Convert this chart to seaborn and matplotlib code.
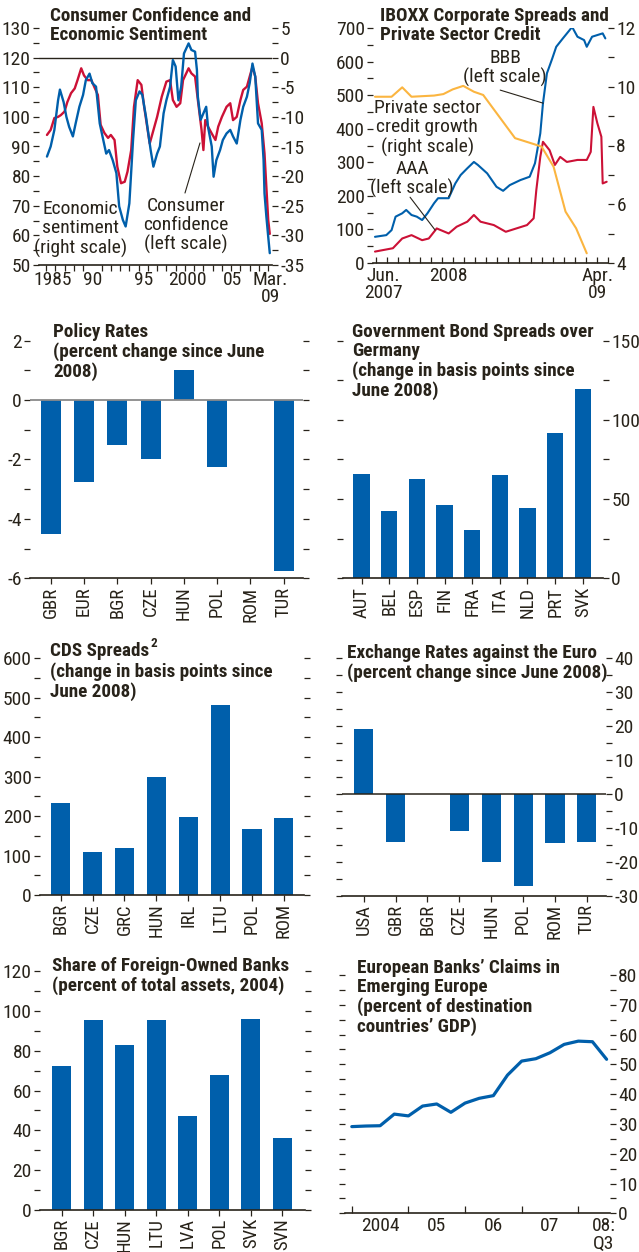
import matplotlib
matplotlib.use("Agg")
import matplotlib.pyplot as plt
from matplotlib import font_manager
from matplotlib.ticker import MultipleLocator
import seaborn as sns

# ---------------- data ----------------
# Consumer confidence (left scale, index) and economic sentiment (right scale, balance)
cc_year = [1985.1, 1985.5, 1985.9, 1986.3, 1986.6, 1987.0, 1987.3, 1987.7, 1988.1, 1988.4,
           1988.8, 1989.1, 1989.5, 1989.9, 1990.2, 1990.6, 1990.9, 1991.3, 1991.7, 1992.0,
           1992.4, 1992.7, 1993.1, 1993.5, 1993.8, 1994.2, 1994.5, 1994.9, 1995.3, 1995.6,
           1996.2, 1996.6, 1997.0, 1997.5, 1998.0, 1998.4, 1998.7, 1999.1, 1999.5, 1999.8,
           2000.4, 2000.7, 2001.1, 2001.4, 2001.8, 2002.0, 2002.2, 2002.5, 2002.9, 2003.3,
           2003.6, 2004.0, 2004.5, 2004.9, 2005.2, 2005.6, 2006.0, 2006.3, 2006.7, 2007.0,
           2007.3, 2007.6, 2007.9, 2008.3, 2008.6, 2008.8, 2009.0, 2009.17]
cc_index = [93.9, 95.6, 99.6, 100.0, 100.6, 101.8, 105.0, 108.0, 109.6, 112.4,
            116.4, 114.0, 112.4, 112.4, 110.2, 107.4, 97.3, 94.6, 92.9, 93.9,
            92.2, 83.2, 77.6, 78.1, 81.5, 88.8, 103.4, 112.4, 110.8, 103.4,
            91.0, 95.5, 100.0, 106.8, 111.9, 112.4, 105.7, 103.4, 104.6, 112.4,
            116.4, 114.7, 113.6, 105.7, 95.6, 88.8, 98.9, 96.7, 94.4, 92.2,
            96.7, 100.0, 103.4, 104.6, 98.9, 100.0, 105.7, 109.1, 110.2, 113.6,
            116.9, 113.6, 104.6, 97.8, 87.7, 76.4, 65.2, 60.5]

es_year = [1985.1, 1985.5, 1985.9, 1986.3, 1986.5, 1986.9, 1987.2, 1987.5, 1987.9, 1988.2,
           1988.6, 1989.0, 1989.3, 1989.7, 1990.0, 1990.4, 1990.8, 1991.1, 1991.5, 1991.8,
           1992.2, 1992.6, 1992.9, 1993.3, 1993.6, 1994.0, 1994.4, 1994.7, 1995.1, 1995.4,
           1995.8, 1996.3, 1996.6, 1997.0, 1997.3, 1997.7, 1998.0, 1998.4, 1998.7, 1999.0,
           1999.3, 1999.6, 1999.9, 2000.4, 2000.7, 2001.1, 2001.3, 2001.4, 2001.7, 2002.0,
           2002.3, 2002.5, 2002.9, 2003.1, 2003.4, 2003.8, 2004.1, 2004.5, 2004.9, 2005.2,
           2005.6, 2006.0, 2006.3, 2006.7, 2007.0, 2007.3, 2007.6, 2007.9, 2008.3, 2008.5,
           2008.6, 2008.8, 2009.0, 2009.17]
es_balance = [-16.7, -15.0, -12.2, -7.2, -5.4, -7.5, -10.0, -11.7, -13.3, -11.1,
              -8.3, -6.3, -3.8, -2.7, -4.3, -4.9, -11.1, -13.3, -16.2, -15.6,
              -17.3, -19.5, -25.1, -27.4, -28.5, -24.6, -13.9, -7.2, -5.7, -6.3,
              -10.0, -15.6, -18.4, -16.2, -15.0, -9.4, -7.2, -4.9, -0.4, -1.5,
              -7.2, -4.9, 0.7, 2.4, 1.3, 1.0, -2.1, -6.6, -10.5, -9.4,
              -8.3, -11.7, -15.0, -20.1, -17.3, -15.6, -13.9, -12.8, -12.2, -13.3,
              -14.5, -10.5, -8.3, -6.6, -4.3, -1.0, -3.2, -11.1, -12.2, -17.3,
              -22.9, -26.8, -30.2, -33.0]

# iBoxx corporate spreads (basis points) and private sector credit growth (percent)
bbb_year = [2007.495, 2007.58, 2007.62, 2007.65, 2007.70, 2007.73, 2007.77, 2007.81, 2007.85,
            2007.89, 2007.94, 2007.97, 2008.05, 2008.10, 2008.14, 2008.19, 2008.24, 2008.27,
            2008.34, 2008.41, 2008.46, 2008.51, 2008.59, 2008.66, 2008.70, 2008.74, 2008.76,
            2008.79, 2008.83, 2008.86, 2008.91, 2008.98, 2009.02, 2009.07, 2009.09, 2009.13,
            2009.21, 2009.23]
bbb_bp = [78, 83, 98, 138, 148, 158, 143, 138, 128,
          148, 178, 193, 193, 237, 262, 282, 301, 292,
          267, 227, 215, 232, 247, 257, 297, 386, 475,
          565, 609, 644, 669, 703, 674, 664, 644, 674,
          684, 669]
aaa_year = [2007.495, 2007.63, 2007.70, 2007.77, 2007.85, 2007.90, 2007.96, 2008.05, 2008.11,
            2008.19, 2008.24, 2008.29, 2008.39, 2008.48, 2008.56, 2008.64, 2008.69, 2008.71,
            2008.74, 2008.76, 2008.81, 2008.85, 2008.89, 2008.94, 2009.02, 2009.09, 2009.12,
            2009.14, 2009.17, 2009.20, 2009.21, 2009.24]
aaa_bp = [34, 44, 73, 83, 68, 73, 103, 88, 108,
          123, 143, 123, 113, 93, 103, 113, 133, 217,
          316, 361, 336, 292, 316, 301, 307, 307, 331,
          465, 416, 376, 237, 242]
credit_year = [2007.495, 2007.62, 2007.70, 2007.77, 2007.94, 2008.01, 2008.08, 2008.16, 2008.24,
               2008.31, 2008.55, 2008.69, 2008.75, 2008.84, 2008.93, 2009.01, 2009.09]
credit_growth = [9.66, 9.66, 9.98, 9.66, 9.70, 9.75, 9.91, 10.03, 9.83,
                 9.72, 8.25, 8.05, 7.96, 7.28, 5.75, 5.18, 4.33]

policy_countries = ["GBR", "EUR", "BGR", "CZE", "HUN", "POL", "ROM", "TUR"]
policy_change = [-4.5, -2.75, -1.5, -2.0, 1.0, -2.25, 0.0, -5.75]

bond_countries = ["AUT", "BEL", "ESP", "FIN", "FRA", "ITA", "NLD", "PRT", "SVK"]
bond_change = [66, 42.5, 63, 46, 30.5, 65, 44.5, 92, 119.5]

cds_countries = ["BGR", "CZE", "GRC", "HUN", "IRL", "LTU", "POL", "ROM"]
cds_change = [233, 110, 119, 300, 197, 481, 167, 195]

fx_countries = ["USA", "GBR", "BGR", "CZE", "HUN", "POL", "ROM", "TUR"]
fx_change = [19.2, -14.1, 0.0, -10.8, -20.2, -27.0, -14.6, -14.1]

foreign_countries = ["BGR", "CZE", "HUN", "LTU", "LVA", "POL", "SVK", "SVN"]
foreign_share = [72.4, 95.5, 82.9, 95.5, 47.2, 67.8, 96.0, 36.1]

claims_quarter = [2004.0, 2004.25, 2004.5, 2004.75, 2005.0, 2005.25, 2005.5, 2005.75,
                  2006.0, 2006.25, 2006.5, 2006.75, 2007.0, 2007.25, 2007.5, 2007.75,
                  2008.0, 2008.25, 2008.5]
claims_gdp = [29.1, 29.3, 29.4, 33.3, 32.7, 36.0, 36.7, 33.9,
              37.0, 38.6, 39.5, 46.4, 51.1, 51.9, 53.9, 56.7,
              57.8, 57.6, 51.7]

# ---------------- style ----------------
W, H = 639, 1252
INK = "#28231a"
BLUE = "#005fab"
RED = "#cc1136"
ORANGE = "#fbb540"
GREY = "#8a8a8a"

sns.set_theme(style="white")
names = {f.name for f in font_manager.fontManager.ttflist}
FONT = "Liberation Sans"
for cand in ["Liberation Sans Narrow", "Roboto Condensed", "Open Sans Condensed", "Noto Sans Condensed"]:
    if cand in names:
        FONT = cand
        break
plt.rcParams["font.family"] = [FONT, "DejaVu Sans"]
plt.rcParams["axes.unicode_minus"] = False
plt.rcParams["text.color"] = INK

TICK = 14
CAT = 13.5
TITLE = 13.8
NOTE = 14
PITCH = 20  # title line pitch in pixels

fig = plt.figure(figsize=(W / 100, H / 100), dpi=100)


def axes_px(left, top, right, bottom):
    return fig.add_axes([left / W, 1 - bottom / H, (right - left) / W, (bottom - top) / H])


def frame(ax):
    for s in ("top", "left", "right"):
        ax.spines[s].set_visible(False)
    ax.spines["bottom"].set_color(INK)
    ax.spines["bottom"].set_linewidth(1.2)
    ax.set_facecolor("none")
    ax.grid(False)
    ax.set_xlabel("")
    ax.set_ylabel("")


def yscale(ax, lo, hi, major, minor, left=True, right=False, labelleft=False, labelright=False):
    ax.set_ylim(lo, hi)
    ax.yaxis.set_major_locator(MultipleLocator(major))
    ax.yaxis.set_minor_locator(MultipleLocator(minor))
    ax.tick_params(axis="y", which="both", left=left, right=right,
                   labelleft=labelleft, labelright=labelright,
                   direction="out", length=4, width=0.9, pad=2,
                   color=INK, labelcolor=INK, labelsize=TICK)


def title(px, py, s):
    return fig.text(px / W, 1 - py / H, s, fontsize=TITLE, fontweight="bold",
                    color=INK, ha="left", va="top", linespacing=1.07)


def note(ax, x, y, s, **kw):
    ax.text(x, y, s, fontsize=NOTE, color=INK, ha="center", va="center",
            linespacing=1.08, **kw)


def tight_lines(ax):
    for lab in ax.get_xticklabels():
        lab.set_linespacing(0.95)


def bars(box, cats, vals, xlim):
    ax = axes_px(*box)
    sns.barplot(x=cats, y=vals, ax=ax, color=BLUE, saturation=1, width=0.6,
                linewidth=0, zorder=2)
    frame(ax)
    ax.set_xlim(*xlim)
    ax.set_xticks(range(len(cats)))
    ax.set_xticklabels(cats, rotation=90)
    ax.tick_params(axis="x", which="both", bottom=True, direction="out", length=4,
                   width=0.9, pad=2, color=INK, labelcolor=INK, labelsize=CAT)
    return ax


# ---------------- 1: consumer confidence / economic sentiment ----------------
ax1 = axes_px(39, 28, 272, 265)
sns.lineplot(x=cc_year, y=cc_index, ax=ax1, color=RED, linewidth=1.7)
ax1.axhline(120, color=INK, linewidth=1.0, zorder=1)
frame(ax1)
ax1.set_xlim(1984.24, 2009.41)
yscale(ax1, 50, 130, 10, 5, left=True, labelleft=True)
ax1.set_xticks([1985.75, 1990.0, 1995.5, 2000.25, 2005.15, 2009.2],
               ["1985", "90", "95", "2000", "05", "Mar.\n09"])
ax1.set_xticks(list(range(1985, 2010)), minor=True)
ax1.tick_params(axis="x", which="major", length=0, pad=4, labelsize=TICK, labelcolor=INK)
ax1.tick_params(axis="x", which="minor", bottom=True, direction="out", length=4, width=0.9, color=INK)
tight_lines(ax1)

ax1r = ax1.twinx()
sns.lineplot(x=es_year, y=es_balance, ax=ax1r, color=BLUE, linewidth=1.7)
for s in ax1r.spines.values():
    s.set_visible(False)
ax1r.set_ylabel("")
yscale(ax1r, -35, 5, 5, 2.5, left=False, right=True, labelright=True)

note(ax1r, 1988.7, -28.9, "Economic\nsentiment\n(right scale)")
note(ax1r, 2000.1, -28.3, "Consumer\nconfidence\n(left scale)")
ax1r.annotate("", xy=(2001.63, -14.4), xytext=(2000.01, -22.85),
              arrowprops=dict(arrowstyle="-", color=INK, lw=0.8, shrinkA=0, shrinkB=0))
title(50, 7, "Consumer Confidence and\nEconomic Sentiment")

# ---------------- 2: iBoxx spreads / credit growth ----------------
ax2 = axes_px(373, 28, 608, 263)
sns.lineplot(x=bbb_year, y=bbb_bp, ax=ax2, color=BLUE, linewidth=1.5)
sns.lineplot(x=aaa_year, y=aaa_bp, ax=ax2, color=RED, linewidth=1.5)
frame(ax2)
ax2.set_xlim(2007.48, 2009.25)
yscale(ax2, 0, 700, 100, 50, left=True, labelleft=True)
ax2.set_xticks([2007.555, 2008.05, 2009.17], ["Jun.\n2007", "2008", "Apr.\n09"])
ax2.set_xticks([2007.5 + k / 12 for k in range(22)], minor=True)
ax2.tick_params(axis="x", which="major", length=0, pad=3, labelsize=TICK, labelcolor=INK)
ax2.tick_params(axis="x", which="minor", bottom=True, direction="in", length=4, width=0.9, color=INK)
tight_lines(ax2)

ax2r = ax2.twinx()
sns.lineplot(x=credit_year, y=credit_growth, ax=ax2r, color=ORANGE, linewidth=1.5)
for s in ax2r.spines.values():
    s.set_visible(False)
ax2r.set_ylabel("")
yscale(ax2r, 4, 12, 2, 1, left=False, right=True, labelright=True)

t2 = ax2.transData
note(ax2r, 2008.476, 580, "BBB\n(left scale)", transform=t2)
note(ax2r, 2007.888, 402, "Private sector\ncredit growth\n(right scale)", transform=t2)
note(ax2r, 2007.774, 250, "AAA\n(left scale)", transform=t2)
ax2.annotate("", xy=(2008.762, 476), xytext=(2008.438, 515),
             arrowprops=dict(arrowstyle="-", color=INK, lw=0.8, shrinkA=0, shrinkB=0))
ax2.annotate("", xy=(2007.948, 98), xytext=(2007.759, 196),
             arrowprops=dict(arrowstyle="-", color=INK, lw=0.8, shrinkA=0, shrinkB=0))
title(380, 7, "IBOXX Corporate Spreads and\nPrivate Sector Credit")

# ---------------- 3: policy rates ----------------
ax3 = bars((30, 340.7, 303, 578.3), policy_countries, policy_change, (-0.62, 7.58))
yscale(ax3, -6, 2, 2, 1, left=True, right=True, labelleft=True)
ax3.axhline(0, color=GREY, linewidth=1.3, zorder=3)
title(53, 323, "Policy Rates\n(percent change since June\n2008)")

# ---------------- 4: government bond spreads ----------------
ax4 = bars((343, 340.7, 603, 578.3), bond_countries, bond_change, (-0.67, 8.73))
yscale(ax4, 0, 150, 50, 25, left=True, right=True, labelright=True)
title(352, 323, "Government Bond Spreads over\nGermany\n(change in basis points since\nJune 2008)")

# ---------------- 5: CDS spreads ----------------
ax5 = bars((40, 658.3, 304, 895), cds_countries, cds_change, (-0.65, 7.63))
yscale(ax5, 0, 600, 100, 50, left=True, right=True, labelleft=True)
head = title(50, 642, "CDS Spreads")
title(50, 642 + PITCH, "(change in basis points since\nJune 2008)")
bb = head.get_window_extent(fig.canvas.get_renderer())
fig.text((bb.x1 + 1.5) / W, (bb.y1 + 5) / H, "2", fontsize=9.5, fontweight="bold",
         color=INK, ha="left", va="top")

# ---------------- 6: exchange rates ----------------
ax6 = bars((342, 658.3, 606, 895.7), fx_countries, fx_change, (-0.68, 7.6))
yscale(ax6, -30, 40, 10, 5, left=True, right=True, labelright=True)
ax6.axhline(0, color=INK, linewidth=1.1, zorder=3)
title(347, 644, "Exchange Rates against the Euro\n(percent change since June 2008)")

# ---------------- 7: foreign-owned banks ----------------
ax7 = bars((40, 971.3, 305, 1209.7), foreign_countries, foreign_share, (-0.69, 7.72))
yscale(ax7, 0, 120, 20, 10, left=True, right=True, labelleft=True)
title(52, 957, "Share of Foreign-Owned Banks\n(percent of total assets, 2004)")

# ---------------- 8: European banks' claims ----------------
ax8 = axes_px(345, 975, 610, 1213.3)
sns.lineplot(x=claims_quarter, y=claims_gdp, ax=ax8, color=BLUE, linewidth=2.3)
frame(ax8)
ax8.set_xlim(2003.88, 2008.56)
yscale(ax8, 0, 80, 10, 5, left=True, right=True, labelright=True)
ax8.set_xticks([2004.5, 2005.5, 2006.5, 2007.5, 2008.45], ["2004", "05", "06", "07", "08:\nQ3"])
ax8.set_xticks([2004, 2005, 2006, 2007, 2008], minor=True)
ax8.tick_params(axis="x", which="major", length=0, pad=3, labelsize=TICK, labelcolor=INK)
ax8.tick_params(axis="x", which="minor", bottom=True, direction="in", length=5, width=0.9, color=INK)
tight_lines(ax8)
title(357, 959, "European Banks\u2019 Claims in\nEmerging Europe\n(percent of destination\ncountries\u2019 GDP)")

fig.savefig("out.png", dpi=100)
